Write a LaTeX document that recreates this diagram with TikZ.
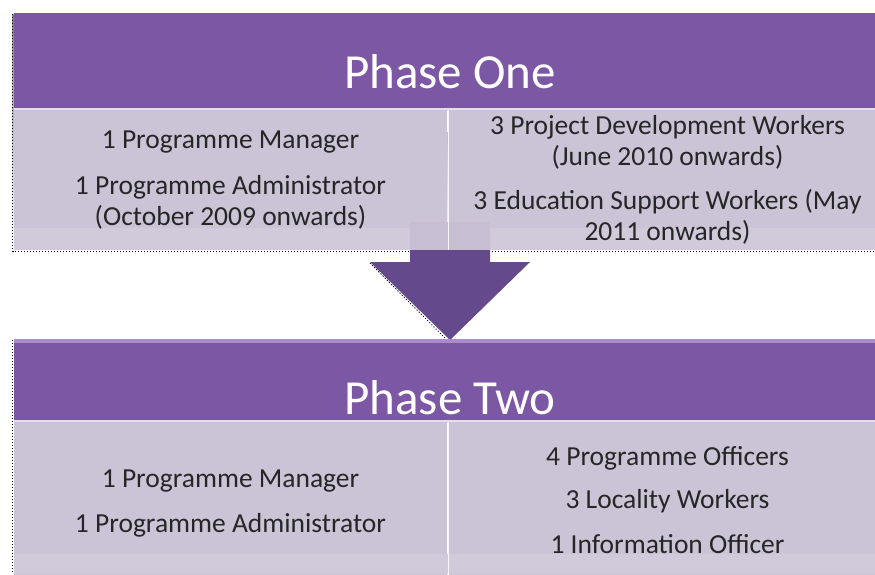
\documentclass[tikz,border=0pt]{standalone}
\usepackage{fontspec}
\setmainfont{Carlito}
\definecolor{hdr}{HTML}{7B57A4}
\definecolor{hdrlight}{HTML}{A98ACB}
\definecolor{boxc}{HTML}{CBC3D6}
\definecolor{boxlow}{HTML}{D0CADB}
\definecolor{gapc}{HTML}{E4E0EA}
\definecolor{arrc}{HTML}{644A8C}
\definecolor{txt}{HTML}{262626}
\definecolor{shade}{HTML}{C8C8C8}
\begin{document}
\begin{tikzpicture}[x=1pt,y=-1pt,
  hdrbox/.style={fill=hdr, inner sep=0pt, outer sep=0pt, anchor=north west},
  cellbox/.style={fill=boxc, inner sep=0pt, outer sep=0pt, anchor=north west},
  celltext/.style={text=txt, align=center, inner sep=0pt,
    font=\fontsize{27.5}{31}\selectfont},
  titletext/.style={text=white, inner sep=0pt, font=\fontsize{49}{55}\selectfont},
  shadowline/.style={shade, line width=1pt, dotted}
]
\useasboundingbox (0,0) rectangle (875,574);
\clip (0,0) rectangle (875,574);
\fill[white] (0,0) rectangle (875,574);

% ---- Phase One ----
\draw[shadowline] (12.5,14) -- (12.5,251.5) -- (886,251.5);
\fill[gapc] (14,107) rectangle (886,111);
\node[hdrbox, minimum width=872pt, minimum height=95pt] (h1) at (14,13) {};
\node[titletext] (t1) at (450,72) {Phase One};
\node[cellbox, minimum width=433pt, minimum height=140pt] (b1l) at (14,110) {};
\node[cellbox, minimum width=437pt, minimum height=140pt] (b1r) at (449,110) {};
\fill[boxlow] (14,228) rectangle (447,250);
\fill[boxlow] (449,228) rectangle (886,250);
\fill[boxc!95!hdr] (410,222) rectangle (490,250);
\draw[white!85!boxc, line width=1pt] (448,110) -- (448,250);

% arrow
\fill[arrc]
  (410,250) -- (490,250) -- (490,262) -- (530,262) -- (450,340)
  -- (370,262) -- (410,262) -- cycle;
\draw[shadowline] (370,263) -- (448,341);

\node[celltext] (p1a) at (b1l.center |- 0,142) {1 Programme Manager};
\node[celltext] (p1b) at (b1l.center |- 0,202) {1 Programme Administrator\\(October 2009 onwards)};
\node[celltext] (p1c) at (b1r.center |- 0,142) {3 Project Development Workers\\(June 2010 onwards)};
\node[celltext] (p1d) at (b1r.center |- 0,217) {3 Education Support Workers (May\\2011 onwards)};

% ---- Phase Two ----
\draw[shadowline] (12.5,340) -- (12.5,574);
\fill[gapc] (14,419) rectangle (886,423);
\node[hdrbox, minimum width=872pt, minimum height=81pt] (h2) at (14,339) {};
\fill[hdrlight] (14,339) rectangle (886,343);
\node[titletext] (t2) at (450,398) {Phase Two};
\node[cellbox, minimum width=433pt, minimum height=160pt] (b2l) at (14,422) {};
\node[cellbox, minimum width=437pt, minimum height=160pt] (b2r) at (449,422) {};
\fill[boxlow] (14,554) rectangle (886,574);
\draw[white!85!boxc, line width=1pt] (448,422) -- (448,574);

\node[celltext] (p2a) at (b2l.center |- 0,481) {1 Programme Manager};
\node[celltext] (p2b) at (b2l.center |- 0,525) {1 Programme Administrator};
\node[celltext] (p2c) at (b2r.center |- 0,458) {4 Programme Officers};
\node[celltext] (p2d) at (b2r.center |- 0,501) {3 Locality Workers};
\node[celltext] (p2e) at (b2r.center |- 0,544) {1 Information Officer};
\end{tikzpicture}
\end{document}
